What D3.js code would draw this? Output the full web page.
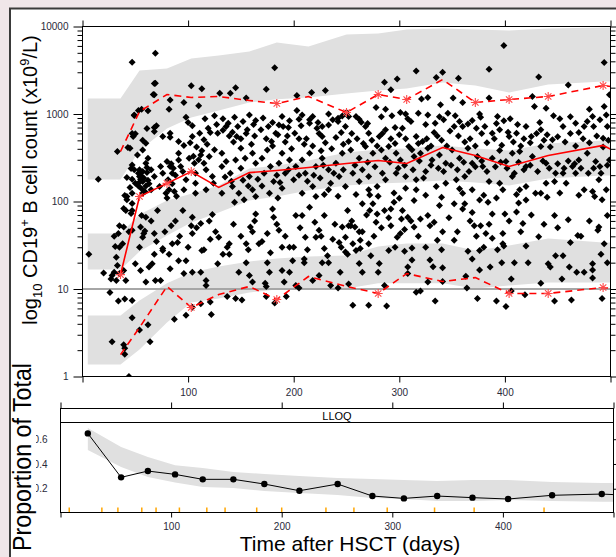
<!DOCTYPE html>
<html>
<head>
<meta charset="utf-8">
<script src="https://cdn.jsdelivr.net/npm/d3@7"></script>
<style>
  body { margin: 0; background: #f0e6e9; }
  svg { display: block; font-family: "Liberation Sans", Arial, sans-serif; }
</style>
</head>
<body>
<svg id="chart"></svg>
<script>
// ---- top panel: observed CD19+ B cell counts (day, x10^9/L)
const obs = [
  [15,180],[33,373],[47,3910],[69,4950],[182,3370],[69,2250],[68,1660],[103,2100],[113,1940],[130,1730],
  [145,1990],[174,1920],[203,1630],[230,1860],[217,1760],[140,1730],[155,1520],[83,1450],[96,1350],[110,1240],
  [62,1090],[49,977],[82,1135],[56,1135],[125,953],[158,977],[189,935],[203,1097],[215,857],[233,1003],
  [242,895],[250,1040],[70,733],[98,920],[104,733],[48,553],[50,593],[60,464],[57,389],[45,407],
  [68,631],[76,553],[83,603],[83,543],[91,485],[96,437],[104,553],[111,603],[119,689],[121,615],
  [115,507],[128,603],[138,785],[136,720],[147,720],[146,553],[156,659],[164,843],[169,659],[176,720],
  [183,603],[179,485],[186,751],[190,720],[196,836],[201,603],[207,733],[208,977],[215,785],[218,935],
  [222,689],[227,720],[227,553],[233,751],[242,820],[245,615],[249,720],
  [47,262],[52,341],[49,230],[54,193],[57,169],[54,230],[47,180],[50,162],[60,274],[62,313],
  [65,230],[68,193],[74,251],[76,211],[80,286],[83,251],[85,211],[81,177],[82,136],[91,356],
  [91,299],[93,251],[95,220],[98,177],[101,313],[106,274],[107,211],[107,162],[112,341],[115,274],
  [120,326],[117,230],[123,193],[124,162],[132,251],[132,356],[136,286],[140,211],[145,299],[150,407],
  [150,240],[154,313],[158,193],[161,356],[164,274],[170,313],[172,211],[175,389],[178,251],[181,169],
  [186,274],[189,356],[192,211],[196,299],[200,177],[202,251],[208,299],[211,211],[215,356],[218,148],
  [221,251],[225,185],[227,313],[233,230],[235,162],[240,274],[243,193],[246,356],[249,148],[47,124],
  [57,124],[65,136],[73,148],[79,124],[96,136],[107,124],[117,136],[132,124],[142,148],[148,124],
  [161,136],[177,124],[189,142],[208,124],[221,114],[233,136],[42,114],[164,114],
  [399,6070],[494,3880],[385,3250],[432,2640],[460,2150],[316,3110],[341,3000],[335,2610],[356,2570],[298,2520],
  [286,2310],[292,1890],[327,1545],[321,1480],[351,1520],[360,1350],[376,1003],[385,1520],[426,1585],[428,1219],
  [393,935],[439,1166],[446,953],[480,1135],[494,1219],[499,1660],[475,720],[259,935],[264,807],[278,1185],
  [287,1135],[293,953],[301,1040],[306,1003],[311,820],[318,1023],[327,977],[334,785],[339,1274],[342,857],
  [346,1023],[353,953],[352,720],[360,720],[369,843],[373,689],[381,720],[388,603],[395,659],[399,836],
  [404,553],[411,603],[420,720],[425,553],[434,659],[440,578],[445,507],[455,720],[467,785],[470,615],
  [483,935],[484,720],[496,977],[497,720],[493,530],[252,935],[268,720],[271,603],[281,553],[287,659],
  [303,689],[316,553],[322,485],[333,615],
  [252,485],[254,389],[262,313],[268,425],[275,356],[283,389],[287,313],[290,425],[297,356],[301,299],
  [309,425],[314,326],[320,356],[327,407],[331,299],[338,341],[344,274],[350,389],[357,313],[365,407],
  [369,274],[374,326],[379,251],[388,313],[395,383],[401,286],[407,356],[414,373],[420,251],[426,326],
  [434,425],[439,274],[448,211],[455,211],[464,251],[470,299],[478,356],[486,286],[490,251],[499,299],
  [256,211],[262,169],[271,193],[279,148],[287,177],[297,211],[306,193],[316,177],[323,185],[335,148],
  [344,162],[354,177],[362,193],[369,136],[385,169],[395,162],[407,193],[414,136],[420,148],[429,124],
  [439,162],[447,169],[458,162],[467,211],[475,136],[483,130],[489,177],[496,136],[271,136],[272,119],
  [300,109],[306,142],[316,136],[360,124],[376,104],[398,136],[420,104],[434,124],[485,114],
  [6,25],[20,15.2],[26,9.1],[34,7.3],[40,7.7],[47,7.4],[47,4.7],[54,3.4],[62,3.9],[64,2.5],
  [28,2.5],[39,2.3],[40,2.1],[40,1.8],[44,1.0],[87,4.5],[98,5.0],[104,6.2],[122,5.1],[121,7.1],
  [112,6.8],[137,8.2],[145,7.8],[151,7.5],[174,8.2],[182,6.9],[193,8.2],[202,11],[205,10.3],[224,14.3],
  [235,11],[242,10.3],[174,10.7],[173,11.6],[28,14.3],[30,15.5],[27,13],[32,12.5],[35,15],[39,16.3],
  [41,12.5],[33,18.5],[32,23],[35,30],[38,33],[31,30.5],[34,43],[30,40],[35,53],[54,30],
  [57,39],[50,19.4],[55,16.3],[63,17.8],[66,19.4],[69,12.5],[74,12.5],[60,12],[68,25],[76,29],
  [82,25],[83,17],[91,21],[98,21],[96,15],[104,15.5],[112,15.5],[117,12.5],[117,11],[139,33],
  [139,25],[148,15.5],[155,20],[158,14.3],[161,12],[175,20],[177,15.5],[189,16.3],[191,12],[196,15.5],
  [199,21],[210,20],[210,22],[218,12.5],[227,20],[233,20],[244,15.5],[251,25],
  [41,79],[47,79],[39,51],[44,45],[55,51],[58,43],[60,66],[68,43],[71,79],[76,27.5],
  [84,53],[85,33],[90,34],[95,79],[103,53],[104,43],[104,66],[112,56],[113,27.5],[121,37],
  [123,71],[128,19.4],[129,39],[137,30],[144,98],[155,33],[159,51],[161,45],[164,72],[167,33],
  [175,43],[180,82],[181,66],[186,47],[189,30],[196,30],[202,69],[208,69],[211,39],[215,86],
  [221,39],[224,47],[229,69],[229,29],[237,37],[243,34],[246,51],
  [252,11.4],[256,6.5],[271,6.5],[288,6.4],[316,9.2],[320,9.5],[334,7.3],[374,7.8],[392,7.3],[401,6.3],
  [406,9.5],[419,8.6],[434,11.6],[447,7.3],[463,7.5],[492,7.8],[364,10.3],[341,12.2],[327,12],[308,15],
  [286,11],[280,15.5],[262,19.5],[265,15.5],[281,19.5],[308,17.8],[312,21.5],[329,21.5],[332,18],[341,17.5],
  [363,14],[376,16.5],[386,17.8],[397,20],[406,13],[409,20],[422,20],[441,19.4],[443,17.8],[454,13],
  [461,17.8],[468,15.5],[475,15.5],[483,19.4],[483,16.5],[483,13.4],[491,25],[497,20],[290,27.5],[305,27],
  [312,29.5],[336,36],[352,36],[365,27],[369,22],[376,27.5],[380,30],[398,33],[399,31],[420,31],
  [448,24],[455,24],[462,34],[249,26.4],[249,39],[256,33],[259,27.5],[263,29],[273,24],[271,33],
  [263,36],
  [251,79],[252,53],[265,94],[275,94],[272,79],[279,72],[286,79],[292,82],[295,98],[303,79],
  [308,66],[314,103],[320,63],[327,69],[329,53],[338,90],[341,45],[352,94],[360,82],[362,94],
  [369,75],[371,53],[377,53],[384,98],[388,72],[382,43],[388,38],[398,43],[400,72],[411,76],
  [413,96],[417,56],[432,39.5],[447,69],[469,41],[488,47],[489,51],[497,69],[254,53],[258,51],
  [265,45],[278,58],[292,53],[298,39],[301,43],[302,63],[314,51],
  [40,117],[42,105],[53,150],[55,180],[47,95],[39,83],[46,73],[56,69],[65,60],[47,47],
  [59,46],[43,414],[49,961],[53,1100],[47,598],[57,500],[61,683],[68,700],[68,2230],[67,1670],
  [61,215],[46,238],[42,188],[45,145],[54,166],
  [55,200],[58,185],[60,150],[62,175],[56,140],[59,130],[63,160],[53,210],[57,220],[61,245],
  [84,270],[86,240],[88,200],[85,160],[87,130],[80,110],[89,115],
  [102,470],[108,420],[113,380],[118,450],[125,390],[105,330],[110,300],
  [133,650],[139,560],[143,480],[150,520],[155,600],[160,450],[163,560],[142,620],
  [174,520],[180,430],[185,580],[192,480],[198,400],[205,520],[194,560],[210,450],
  [212,520],[218,430],[224,600],[230,470],[236,400],[240,540],[247,450],[226,380],
  [135,190],[141,170],[152,175],[157,150],[166,180],[170,150],[184,200],[187,165],[195,230],[205,200],
  [213,170],[219,200],[228,260],[238,210],[247,230],[229,120],[242,115],[185,110],[153,105],
  [100,800],[116,880],[127,760],[133,880],[144,920],[152,820],[162,760],[171,900],[180,800],[195,700],
  [205,870],[223,800],[237,860],[246,950],
  [255,600],[260,520],[266,460],[274,500],[279,430],[284,600],[292,520],[296,460],[300,580],[306,520],
  [312,390],[318,460],[326,520],[330,430],[336,560],[340,500],[345,430],[348,640],
  [356,560],[362,480],[367,520],[372,430],[378,600],[383,470],[390,520],[397,440],[403,620],[408,480],
  [415,430],[418,520],[424,470],[430,600],[437,500],[443,420],[450,550],[457,480],[462,600],[467,430],
  [474,520],[480,470],[487,560],[493,420],[498,500],
  [258,260],[265,230],[270,280],[277,250],[284,210],[291,280],[299,240],[305,260],[313,230],[319,290],
  [325,220],[330,260],[337,240],[342,220],[349,260],[355,230],[361,280],[366,220],[372,250],[378,290],
  [383,220],[391,250],[396,280],[402,240],[409,210],[413,280],[418,230],[424,260],[431,220],[436,290],
  [442,240],[450,270],[456,240],[460,290],[466,270],[472,240],[479,210],[484,240],[491,210],[497,260],
  [259,120],[280,115],[295,125],[325,118],[340,112],[357,140],[380,118],[392,110],[411,120],[440,112],
  [452,125],[470,118],[492,105],
  [262,870],[270,780],[283,930],[296,700],[308,880],[325,760],[338,930],[357,820],[365,770],[377,920],
  [392,780],[405,880],[412,760],[433,800],[452,880],[462,930],[478,820],[490,860],
  [70,35],[78,45],[88,60],[92,40],[100,30],[108,50],[115,28],[120,60],[126,45],[133,25],
  [143,55],[150,40],[157,28],[163,60],[170,35],[178,26],[184,55],[192,40],[200,30],[206,50],
  [213,28],[220,58],[226,40],[232,24],[239,55],[245,30],
  [255,60],[262,45],[269,70],[276,40],[283,50],[290,65],[296,30],[305,48],[311,60],[318,40],
  [325,30],[333,58],[340,28],[347,65],[355,45],[367,60],[373,40],[385,55],[393,28],[404,60],
  [415,45],[425,70],[437,55],[450,50],[460,62],[472,40],[480,60],[494,33]
]

// bins (day) with observed 5th / 50th / 95th percentiles
const binDay  = [36, 54, 80, 103, 129, 158, 184, 214, 250, 280, 307, 341, 372, 404, 441, 493, 525]
const obsP05  = [1.78, 3.63, 10.7, 6.15, 8.65, 10.7, 7.59, 13.9, 10.7, 8.89, 15.0, 12.2, 13.5, 8.9, 8.9, 10.4, 9.4]
const obsP50  = [14.6, 114, 161, 220, 145, 214, 226, 245, 272, 294, 272, 414, 336, 251, 336, 437, 282]
const obsP95  = [373, 1068, 1670, 1545, 1585, 1426, 1318, 1585, 1040, 1670, 1465, 2478, 1353, 1465, 1585, 2117, 1900]

// simulated prediction intervals for each percentile
const pi05Lo = [1.37, 2.04, 4.14, 7.01, 7.79, 9.12, 9.87, 10.1, 10.1, 11.6, 11.6, 11.6, 10.1, 11.0, 11.9, 11.9, 11.9]
const pi05Hi = [4.98, 7.39, 11.6, 15.4, 18.1, 20.6, 22.3, 23.5, 24.1, 30.6, 33.1, 33.1, 27.5, 31.4, 37.8, 34.0, 34.0]
const pi50Lo = [16.7, 26.8, 40.9, 57.5, 74.9, 103, 114, 134, 152, 161, 165, 174, 165, 152, 183, 198, 198]
const pi50Hi = [43.1, 71.0, 103, 123, 152, 238, 258, 294, 363, 393, 404, 437, 404, 383, 460, 498, 498]
const pi95Lo = [178, 383, 683, 912, 1100, 1350, 1470, 1540, 1720, 1860, 1960, 2290, 2120, 1760, 2170, 2350, 2350]
const pi95Hi = [1500, 3140, 3310, 4310, 4670, 5180, 6560, 5910, 8100, 8320, 9240, 9490, 9240, 9000, 9490, 9750, 9750]
const piStartDay = 5

const lloq = 10

// ---- bottom panel: proportion below LLOQ
const llqDay = [24.7, 54.8, 79, 103.6, 128.6, 156.3, 184.3, 216, 250.6, 282, 310.5, 340.6, 372.5, 404.7, 444.5, 489.4, 530]
const llqObs = [0.647, 0.292, 0.343, 0.316, 0.276, 0.276, 0.238, 0.184, 0.238, 0.141, 0.122, 0.141, 0.128, 0.117, 0.147, 0.157, 0.14]
const llqHi  = [0.69, 0.537, 0.456, 0.39, 0.367, 0.335, 0.319, 0.302, 0.286, 0.278, 0.27, 0.262, 0.27, 0.27, 0.254, 0.246, 0.245]
const llqLo  = [0.512, 0.375, 0.294, 0.25, 0.214, 0.206, 0.181, 0.165, 0.149, 0.125, 0.117, 0.10, 0.10, 0.109, 0.10, 0.094, 0.094]
const rugDay = [7.9, 37.4, 51.9, 73.5, 86.4, 107.5, 132.3, 148.8, 177.4, 200, 240, 265.3, 295.4, 338.2, 374, 437.2]

const xTicks = [0, 100, 200, 300, 400, 500]

const W = 616, H = 557
const svg = d3.select('#chart').attr('width', W).attr('height', H)

svg.append('rect').attr('width', W).attr('height', H).attr('fill', '#f0e6e9')
svg.append('rect').attr('x', 10).attr('y', 8).attr('width', W - 10).attr('height', H - 8).attr('fill', '#fff')
svg.append('path').attr('d', `M10,${H}V8.5H${W}`)
  .attr('fill', 'none').attr('stroke', '#3a3a3a').attr('stroke-width', 2)

const fontFam = '"Liberation Sans", Arial, sans-serif'
function styleAxis(g) {
  g.attr('font-family', fontFam).attr('font-size', 10)
  g.select('.domain').remove()
  g.selectAll('text').attr('fill', '#2a2a3a')
}

// ================= top panel =================
const x1 = d3.scaleLinear().domain([0, 500]).range([82.5, 610.5])
const y1 = d3.scaleLog().domain([1, 10000]).range([376.5, 26.5])

svg.append('clipPath').attr('id', 'clip1')
  .append('rect').attr('x', 82.5).attr('y', 26.5).attr('width', 528).attr('height', 350)

const p1 = svg.append('g').attr('clip-path', 'url(#clip1)')

const bandColor = '#e0e0e0'
const bx = [piStartDay].concat(binDay)
const ext = a => [a[0]].concat(a)
const bands = [[pi05Lo, pi05Hi], [pi50Lo, pi50Hi], [pi95Lo, pi95Hi]]
const bandArea = d3.area()
  .x(d => x1(d[0])).y0(d => y1(d[1])).y1(d => y1(d[2]))

bands.forEach(([lo, hi]) => {
  const l = ext(lo), h = ext(hi)
  p1.append('path')
    .datum(bx.map((d, i) => [d, l[i], h[i]]))
    .attr('d', bandArea)
    .attr('fill', bandColor)
})

p1.append('line')
  .attr('x1', 82.5).attr('x2', 610.5)
  .attr('y1', y1(lloq)).attr('y2', y1(lloq))
  .attr('stroke', '#a6a6a6').attr('stroke-width', 2)

const diamond = 'M0,-3.5L3.5,0L0,3.5L-3.5,0Z'
p1.selectAll('path.pt')
  .data(obs)
  .enter()
  .append('path')
  .attr('class', 'pt')
  .attr('d', diamond)
  .attr('transform', d => `translate(${x1(d[0])},${y1(d[1])})`)
  .attr('fill', '#000')

const obsLine = d3.line().x(d => x1(d[0])).y(d => y1(d[1]))
const pct = [
  { vals: obsP05, lo: pi05Lo, hi: pi05Hi, dash: '7,5' },
  { vals: obsP50, lo: pi50Lo, hi: pi50Hi, dash: null },
  { vals: obsP95, lo: pi95Lo, hi: pi95Hi, dash: '7,5' }
]

const star = 'M-4.5,0H4.5M0,-4.5V4.5M-3.2,-3.2L3.2,3.2M-3.2,3.2L3.2,-3.2'
pct.forEach(p => {
  const pts = binDay.map((d, i) => [d, p.vals[i]])
  p1.append('path')
    .datum(pts)
    .attr('d', obsLine)
    .attr('fill', 'none')
    .attr('stroke', '#ff0000')
    .attr('stroke-width', 1.6)
    .attr('stroke-dasharray', p.dash)

  const outside = pts.filter((d, i) => d[1] < p.lo[i] || d[1] > p.hi[i])
  p1.selectAll(null)
    .data(outside)
    .enter()
    .append('path')
    .attr('d', star)
    .attr('transform', d => `translate(${x1(d[0])},${y1(d[1])})`)
    .attr('stroke', '#ff4a4a')
    .attr('stroke-width', 1.1)
    .attr('fill', 'none')
})

svg.append('rect')
  .attr('x', 82.5).attr('y', 26.5).attr('width', 528).attr('height', 350)
  .attr('fill', 'none').attr('stroke', '#000')

const majorY = [1, 10, 100, 1000, 10000]
const minorY = y1.ticks().filter(v => !majorY.includes(v))

svg.append('g').attr('transform', 'translate(82.5,0)')
  .call(d3.axisLeft(y1).tickValues(majorY).tickSize(9).tickPadding(5).tickFormat(d3.format('d')))
  .call(styleAxis)
svg.append('g').attr('transform', 'translate(82.5,0)')
  .call(d3.axisLeft(y1).tickValues(minorY).tickSize(5).tickFormat(''))
  .call(styleAxis)
svg.append('g').attr('transform', 'translate(610.5,0)')
  .call(d3.axisRight(y1).tickValues(majorY).tickSize(9).tickFormat(''))
  .call(styleAxis)
svg.append('g').attr('transform', 'translate(610.5,0)')
  .call(d3.axisRight(y1).tickValues(minorY).tickSize(5).tickFormat(''))
  .call(styleAxis)
svg.append('g').attr('transform', 'translate(0,26.5)')
  .call(d3.axisTop(x1).tickValues(xTicks).tickSize(6).tickFormat(''))
  .call(styleAxis)
svg.append('g').attr('transform', 'translate(0,376.5)')
  .call(d3.axisBottom(x1).tickValues(xTicks).tickSize(6).tickPadding(6)
    .tickFormat(d => (d > 0 && d < 500) ? d : ''))
  .call(styleAxis)

const yTitle = svg.append('text')
  .attr('transform', 'translate(37,180) rotate(-90)')
  .attr('text-anchor', 'middle')
  .attr('font-size', 20)
  .attr('fill', '#000')
yTitle.append('tspan').text('log')
yTitle.append('tspan').attr('font-size', 13).attr('dy', 5).text('10')
yTitle.append('tspan').attr('dy', -5).text(' CD19')
yTitle.append('tspan').attr('font-size', 13).attr('dy', -8).text('+')
yTitle.append('tspan').attr('dy', 8).text(' B cell count (x10')
yTitle.append('tspan').attr('font-size', 13).attr('dy', -8).text('9')
yTitle.append('tspan').attr('dy', 8).text('/L)')

// ================= bottom panel =================
const x2 = d3.scaleLinear().domain([0, 500]).range([60.5, 613.5])
const y2 = d3.scaleLinear().domain([0, 0.735]).range([513.5, 422.5])

svg.append('clipPath').attr('id', 'clip2')
  .append('rect').attr('x', 60.5).attr('y', 422.5).attr('width', 553).attr('height', 90)

const p2 = svg.append('g').attr('clip-path', 'url(#clip2)')

p2.append('path')
  .datum(llqDay.map((d, i) => [d, llqLo[i], llqHi[i]]))
  .attr('d', d3.area().x(d => x2(d[0])).y0(d => y2(d[1])).y1(d => y2(d[2])))
  .attr('fill', bandColor)

p2.selectAll('line.rug')
  .data(rugDay)
  .enter()
  .append('line')
  .attr('class', 'rug')
  .attr('x1', d => x2(d)).attr('x2', d => x2(d))
  .attr('y1', 507.5).attr('y2', 512.5)
  .attr('stroke', '#ffa500')
  .attr('stroke-width', 1.5)

const llqPts = llqDay.map((d, i) => [d, llqObs[i]])
p2.append('path')
  .datum(llqPts)
  .attr('d', d3.line().x(d => x2(d[0])).y(d => y2(d[1])))
  .attr('fill', 'none')
  .attr('stroke', '#000')
  .attr('stroke-width', 1)

p2.selectAll('circle')
  .data(llqPts)
  .enter()
  .append('circle')
  .attr('cx', d => x2(d[0]))
  .attr('cy', d => y2(d[1]))
  .attr('r', 3.2)
  .attr('fill', '#000')

svg.append('rect')
  .attr('x', 60.5).attr('y', 422.5).attr('width', 553).attr('height', 90)
  .attr('fill', 'none').attr('stroke', '#000')

// strip
svg.append('rect')
  .attr('x', 60.5).attr('y', 408.5).attr('width', 553).attr('height', 14)
  .attr('fill', '#fff').attr('stroke', '#000')
svg.append('text')
  .attr('x', 337).attr('y', 419.5)
  .attr('text-anchor', 'middle')
  .attr('font-size', 11)
  .text('LLOQ')

svg.append('g').attr('transform', 'translate(0,408.5)')
  .call(d3.axisTop(x2).tickValues(xTicks).tickSize(6).tickFormat(''))
  .call(styleAxis)
svg.append('g').attr('transform', 'translate(0,512.5)')
  .call(d3.axisBottom(x2).tickValues(xTicks).tickSize(5).tickPadding(5)
    .tickFormat(d => (d > 0 && d < 500) ? d : ''))
  .call(styleAxis)
svg.append('g').attr('transform', 'translate(60.5,0)')
  .call(d3.axisLeft(y2).tickValues([0.2, 0.4, 0.6]).tickSize(0).tickPadding(13).tickFormat(d3.format('.1f')))
  .call(styleAxis)
svg.append('g').attr('transform', 'translate(613.5,0)')
  .call(d3.axisRight(y2).tickValues([0.2, 0.4, 0.6]).tickSize(5).tickFormat(''))
  .call(styleAxis)

// bottom-left label sits over the clipped tick labels
svg.append('rect')
  .attr('x', 11).attr('y', 358).attr('width', 25).attr('height', H - 358)
  .attr('fill', '#fff')
svg.append('text')
  .attr('transform', 'translate(31,457) rotate(-90)')
  .attr('text-anchor', 'middle')
  .attr('font-size', 25)
  .attr('textLength', 188)
  .attr('lengthAdjust', 'spacingAndGlyphs')
  .text('Proportion of Total')

svg.append('text')
  .attr('x', 350).attr('y', 551)
  .attr('text-anchor', 'middle')
  .attr('font-size', 21)
  .text('Time after HSCT (days)')
</script>
</body>
</html>
